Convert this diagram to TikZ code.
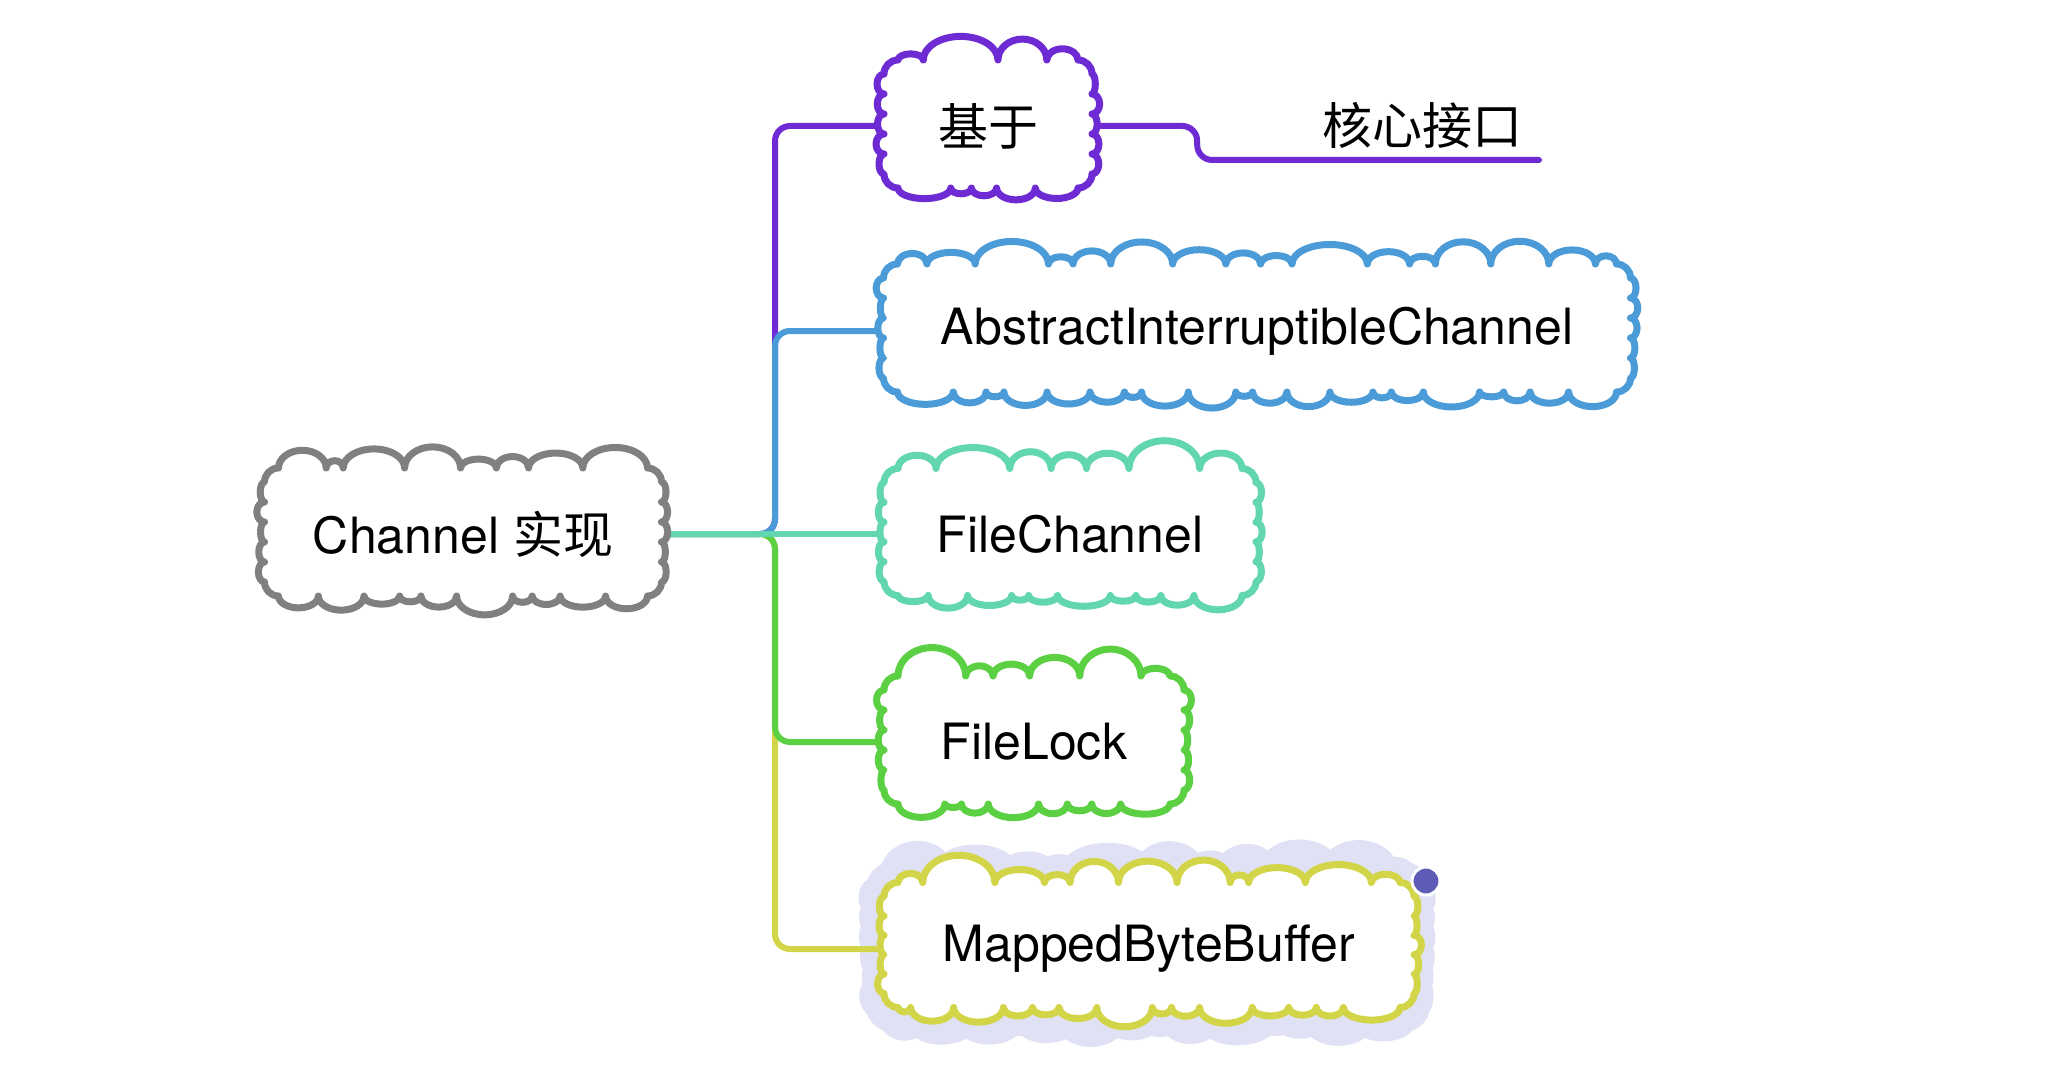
\documentclass[tikz,border=0pt]{standalone}
\usepackage{fontspec}
\setmainfont{TeX Gyre Heros}
\newfontfamily\cjk{Noto Sans CJK SC}
\usetikzlibrary{backgrounds}
\pgfdeclarelayer{halo}
\pgfsetlayers{halo,background,main}
\definecolor{cgray}{HTML}{808080}
\definecolor{cpurple}{HTML}{6E2BD3}
\definecolor{cblue}{HTML}{4A9BD7}
\definecolor{cteal}{HTML}{62D6B0}
\definecolor{cgreen}{HTML}{5CD043}
\definecolor{cyellow}{HTML}{D3D548}
\definecolor{chalo}{HTML}{E1E1F5}
\definecolor{cdot}{HTML}{5C5CB6}
\tikzset{
  cloudline/.style={line width=7pt, draw=#1, fill=white, line join=round},
  halostyle/.style={line width=24pt, draw=chalo, fill=chalo, line join=round},
  cloudtext/.style={inner sep=0pt, font=\fontsize{50}{60}\selectfont, text=black},
  conn/.style={line width=6pt, draw=#1, rounded corners=15pt, line cap=round},
}
% weight function for bump widths
\newcommand\cldw[2]{(1+0.45*sin(#1*97+#2*41)+0.2*sin(#1*211+#2*17))}
% sum of weights: #1 n, #2 phase -> \cldres
\newcommand\cldsumof[2]{%
  \gdef\cldres{0}%
  \foreach \k in {1,...,#1}{\pgfmathparse{\cldres+\cldw{\k}{#2}}\xdef\cldres{\pgfmathresult}}%
}
% #1 cx, #2 cy, #3 w, #4 h, #5 style, #6 seed
\newcommand\cloudshape[6]{%
  \pgfmathsetseed{#6}%
  \pgfmathsetmacro\cldxa{#1-#3/2}%
  \pgfmathsetmacro\cldya{#2-#4/2}%
  \def\cldc{14}%
  \pgfmathtruncatemacro\cldnt{max(1,round((#3-28)/46))}%
  \pgfmathtruncatemacro\cldnb{max(1,round((#3-28)/36))}%
  \cldsumof{\cldnt}{#6}\pgfmathsetmacro\cldst{(#3-28)/\cldres}%
  \cldsumof{\cldnb}{#6+7}\pgfmathsetmacro\cldsb{(#3-28)/\cldres}%
  \pgfmathtruncatemacro\cldns{max(1,round((#4-28)/20))}%
  \pgfmathsetmacro\cldbs{(#4-28)/\cldns}%
  \path[#5] (\cldxa+\cldc,\cldya)
    \foreach \i [evaluate=\i as \ww using {\cldw{\i}{#6}*\cldst}] in {1,...,\cldnt}{arc[start angle=180,end angle=360,x radius=\ww/2,y radius={(0.24+0.2*rnd)*\ww}]}
    arc[start angle=270,end angle=360,radius=\cldc]
    \foreach \i in {1,...,\cldns}{arc[start angle=-90,end angle=90,y radius=\cldbs/2,x radius={(0.15+0.25*rnd)*\cldbs}]}
    arc[start angle=0,end angle=90,radius=\cldc]
    \foreach \i [evaluate=\i as \ww using {\cldw{\i}{#6+7}*\cldsb}] in {1,...,\cldnb}{arc[start angle=0,end angle=180,x radius=\ww/2,y radius={(0.2+0.15*rnd)*\ww}]}
    arc[start angle=90,end angle=180,radius=\cldc]
    \foreach \i in {1,...,\cldns}{arc[start angle=90,end angle=270,y radius=\cldbs/2,x radius={(0.15+0.25*rnd)*\cldbs}]}
    arc[start angle=180,end angle=270,radius=\cldc]
    -- cycle;
}
\begin{document}
\begin{tikzpicture}[x=1pt,y=-1pt]
\useasboundingbox (0,0) rectangle (2062,1070);

% white page and halo behind MappedByteBuffer
\begin{pgfonlayer}{halo}
\fill[white] (0,0) rectangle (2062,1070);
\cloudshape{1148}{947}{540}{146}{halostyle}{7}
\end{pgfonlayer}

% clouds and texts
\cloudshape{463}{532}{397}{128}{cloudline=cgray}{11}
\node[cloudtext, minimum width=397pt, minimum height=128pt] (root) at (463,534) {Channel {\cjk 实现}};

\cloudshape{988}{124}{208}{128}{cloudline=cpurple}{23}
\node[cloudtext, minimum width=208pt, minimum height=128pt] (jiyu) at (988,126) {\cjk 基于};

\cloudshape{1257}{328}{747}{128}{cloudline=cblue}{31}
\node[cloudtext, minimum width=747pt, minimum height=128pt] (abs) at (1257,331) {AbstractInterruptibleChannel};

\cloudshape{1070}{532}{372}{127}{cloudline=cteal}{41}
\node[cloudtext, minimum width=372pt, minimum height=127pt] (fc) at (1070,534) {FileChannel};

\cloudshape{1034}{740}{300}{128}{cloudline=cgreen}{53}
\node[cloudtext, minimum width=300pt, minimum height=128pt] (lock) at (1034,742) {FileLock};

\cloudshape{1149}{945}{530}{125}{cloudline=cyellow}{67}
\node[cloudtext, minimum width=530pt, minimum height=125pt] (mbb) at (1149,949) {MappedByteBuffer};

\node[cloudtext] (core) at (1422,125) {\cjk 核心接口};
\coordinate (coreend) at (1539,160);
\coordinate (trunk) at (775,534);

\node[circle, fill=cdot, draw=white, line width=3pt, minimum size=28pt, inner sep=0pt] (dot) at (1426,881) {};

% connectors
\begin{pgfonlayer}{background}
\draw[conn=cpurple] (root.east) -- (trunk) |- (jiyu.west);
\draw[conn=cyellow] (root.east) -- (trunk) |- (mbb.west);
\draw[conn=cblue] (root.east) -- (trunk) |- (abs.west);
\draw[conn=cgreen] (root.east) -- (trunk) |- (lock.west);
\draw[conn=cteal] (root.east) -- (fc.west);
\draw[conn=cpurple] (jiyu.east) -- ++(105,0) |- (coreend);
\end{pgfonlayer}
\end{tikzpicture}
\end{document}
